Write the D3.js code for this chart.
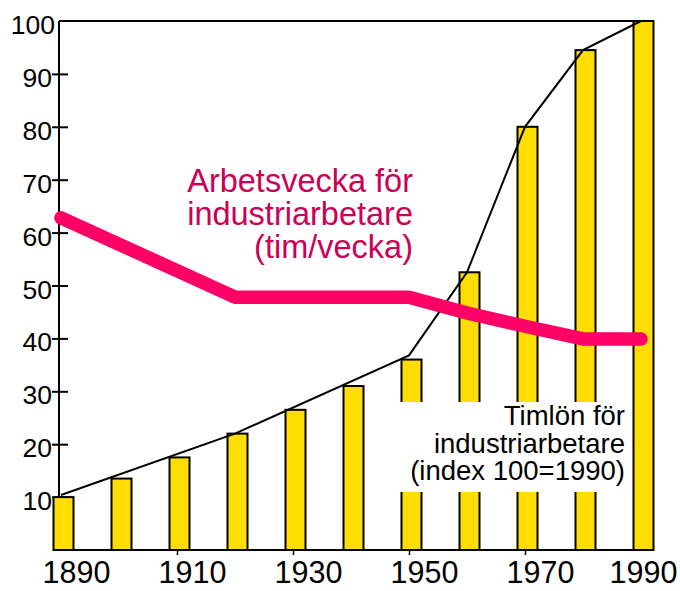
<!DOCTYPE html>
<html>
<head>
<meta charset="utf-8">
<script src="https://cdn.jsdelivr.net/npm/d3@7"></script>
<style>
body { margin: 0; background: #fff; }
text { font-family: "Liberation Sans", Arial, sans-serif; }
</style>
</head>
<body>
<div id="chart"></div>
<script>
// staplar: timlön för industriarbetare (index 100 = 1990)
var barYears = [1890, 1900, 1910, 1920, 1930, 1940, 1950, 1960, 1970, 1980, 1990];
var wageIndex = [10, 13.5, 17.5, 22, 26.5, 31, 36, 52.5, 80, 94.5, 100];

// svart kurva över staplarna
var curveYears = [1890, 1920, 1950, 1960, 1970, 1980, 1990];
var curveValues = [10.4, 22, 36.8, 52.5, 80, 94.5, 100];

// arbetsvecka (tim/vecka)
var weekYears = [1890, 1920, 1950, 1960, 1970, 1980, 1990];
var weekHours = [62.8, 47.8, 47.8, 44.8, 42.3, 39.9, 39.9];

var xTickValues = [1890, 1910, 1930, 1950, 1970, 1990];
var yTickValues = [10, 20, 30, 40, 50, 60, 70, 80, 90, 100];

var svgWidth = 680;
var svgHeight = 591;
var axisLeftX = 59;

var svg = d3.select("#chart")
  .append("svg")
  .attr("width", svgWidth)
  .attr("height", svgHeight);

var x = d3.scaleLinear().domain([1890, 1990]).range([61, 641]);
var y = d3.scaleLinear().domain([0, 100]).range([550, 21]);

var barWidth = 20;

// ram: topplinje och baslinje
svg.append("line")
  .attr("x1", axisLeftX).attr("x2", x(1990))
  .attr("y1", y(100)).attr("y2", y(100))
  .attr("stroke", "#000").attr("stroke-width", 2);

svg.append("line")
  .attr("x1", 53).attr("x2", 652)
  .attr("y1", y(0)).attr("y2", y(0))
  .attr("stroke", "#000").attr("stroke-width", 2);

// y axis
var yAxis = svg.append("g")
  .attr("transform", `translate(${axisLeftX},0)`)
  .call(d3.axisLeft(y).tickValues(yTickValues).tickSize(0).tickPadding(7));

yAxis.select(".domain")
  .attr("stroke-width", 2)
  .attr("d", `M0,${y(100)}V${y(0)}`);

yAxis.selectAll(".tick line")
  .attr("x1", -7).attr("x2", 9)
  .attr("stroke-width", 2)
  .filter(d => d === 100).remove();

yAxis.selectAll(".tick text")
  .attr("font-size", "26.5px")
  .attr("font-family", "Liberation Sans, Arial, sans-serif")
  .attr("fill", "#000")
  .attr("dy", 12.5)
  .attr("x", d => d === 100 ? -4 : -7);

// x axis
var xAxis = svg.append("g")
  .attr("transform", `translate(0,${y(0)})`)
  .call(d3.axisBottom(x).tickValues(xTickValues).tickFormat(d3.format("d")).tickSize(5));

xAxis.select(".domain").remove();

xAxis.selectAll(".tick line")
  .attr("stroke-width", 1.5)
  .filter(d => d === 1890 || d === 1990).remove();

xAxis.selectAll(".tick text")
  .attr("font-size", "30.5px")
  .attr("font-family", "Liberation Sans, Arial, sans-serif")
  .attr("fill", "#000")
  .attr("y", 33)
  .attr("dy", 0)
  .attr("x", d => d === 1990 ? 2 : 15);

// staplar
svg.selectAll(".bar")
  .data(barYears)
  .enter()
  .append("rect")
  .classed("bar", true)
  .attr("x", d => x(d) + 2.5 - barWidth / 2)
  .attr("y", (d, i) => y(wageIndex[i]))
  .attr("width", barWidth)
  .attr("height", (d, i) => y(0) - y(wageIndex[i]))
  .attr("fill", "#FFDD00")
  .attr("stroke", "#000")
  .attr("stroke-width", 2);

// vit ruta bakom svart text
svg.append("rect")
  .attr("x", 392).attr("y", 402)
  .attr("width", 237).attr("height", 90)
  .attr("fill", "#fff");

// one text per line so the lines stay separate
svg.selectAll(".wageLabel")
  .data(["Timlön för", "industriarbetare", "(index 100=1990)"])
  .enter()
  .append("text")
  .classed("wageLabel", true)
  .attr("text-anchor", "end")
  .attr("font-size", "27.5px")
  .attr("fill", "#000")
  .attr("x", 625)
  .attr("y", (d, i) => 425 + i * 27.5)
  .text(d => d);

// svart kurva
var curveLine = d3.line()
  .x(d => x(d))
  .y((d, i) => y(curveValues[i]));

svg.append("path")
  .datum(curveYears)
  .attr("d", curveLine)
  .attr("fill", "none")
  .attr("stroke", "#000")
  .attr("stroke-width", 2);

// arbetsvecka, rosa linje
var weekLine = d3.line()
  .x(d => x(d))
  .y((d, i) => y(weekHours[i]));

svg.append("path")
  .datum(weekYears)
  .attr("d", weekLine)
  .attr("fill", "none")
  .attr("stroke", "#FF0066")
  .attr("stroke-width", 13.5)
  .attr("stroke-linecap", "round")
  .attr("stroke-linejoin", "round");

svg.selectAll(".weekLabel")
  .data(["Arbetsvecka för", "industriarbetare", "(tim/vecka)"])
  .enter()
  .append("text")
  .classed("weekLabel", true)
  .attr("text-anchor", "end")
  .attr("font-size", "32.5px")
  .attr("fill", "#CC0055")
  .attr("x", 413)
  .attr("y", (d, i) => 192 + i * 33)
  .text(d => d);
</script>
</body>
</html>
